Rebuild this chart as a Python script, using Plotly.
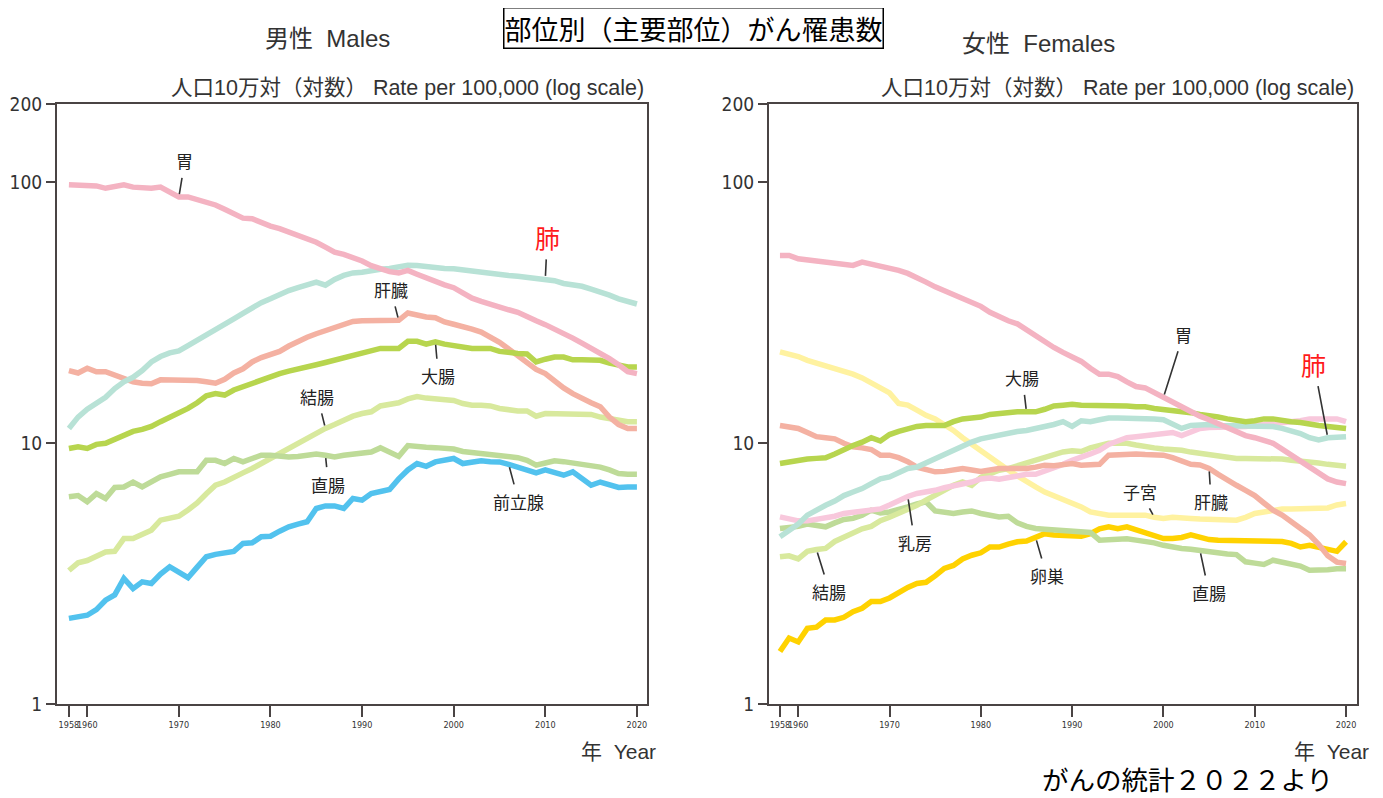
import math
import plotly.graph_objects as go

W, H = 1383, 798
OFF = 8  # page body margin of the browser

YEARS = list(range(1958, 2021))

# ---------------- Males ----------------
M_STOMACH = [98, 98, 98, 97, 95, 96, 98, 96, 95, 95, 96, 92, 88, 88, 86, 84, 82, 79, 76, 73,
             72.6, 70, 68, 66.5, 64.5, 62.7, 61, 59, 56.5, 54, 53, 51.5, 50, 48, 46.5, 45.5, 45, 46,
             44.5, 43, 41.5, 40.5, 39.5, 37.5, 36, 35, 34, 33.3, 32.5, 31.8, 30.8, 29.5, 28.5, 27.5,
             26.5, 25.3, 24.2, 23.2, 22.2, 21.1, 20, 18.8, 18.5]
M_LUNG = [11.4, 12.6, 13.5, 14.2, 15.0, 16.2, 17.2, 17.9, 19, 20.5, 21.5, 22.2, 22.6, 23.7, 24.8,
          26, 27.1, 28.5, 30, 31.5, 33.2, 34.6, 35.8, 37.2, 38.5, 39.5, 40.5, 41.5, 40.4, 42.5, 44,
          45, 45.3, 46, 46.5, 46.8, 47.5, 48.1, 48, 47.5, 47.2, 46.8, 46.7, 46.2, 45.5, 45.2, 44.8,
          44.4, 44, 43.7, 43.4, 43, 42.7, 42, 41, 40.5, 40, 39, 38.2, 37, 35.8, 35.2, 34.2]
M_LIVER = [19, 18.6, 19.4, 18.8, 18.8, 18.3, 17.7, 17.2, 17.0, 16.9, 17.5, 17.5, 17.5, 17.4, 17.4,
           17.2, 17.0, 17.6, 18.6, 19.3, 20.5, 21.3, 21.8, 22.5, 23.6, 24.6, 25.5, 26.3, 27, 27.6,
           28.5, 29.3, 29.5, 29.6, 29.6, 29.6, 29.6, 31.6, 31, 30.5, 30.3, 29.2, 28.6, 28.1, 27.4,
           26.7, 25.6, 24.4, 23, 21.7, 20.3, 19.2, 18.5, 17.3, 16.3, 15.5, 14.8, 14.3, 13.8, 12.6,
           11.8, 11.4, 11.4]
M_COLORECTAL = [9.55, 9.7, 9.55, 9.9, 10.0, 10.4, 10.8, 11.1, 11.3, 11.6, 12.1, 12.6, 13.0, 13.6,
                14.3, 15.2, 15.5, 15.3, 16.0, 16.5, 17.0, 17.5, 18.0, 18.5, 18.9, 19.2, 19.6, 20.0,
                20.4, 20.8, 21.2, 21.7, 22.2, 22.7, 23.1, 23.1, 23.1, 24.6, 24.6, 24.0, 24.5, 24.0,
                23.7, 23.3, 23.1, 23.1, 23.1, 22.5, 22.2, 22.1, 22.0, 20.5, 21.0, 21.4, 21.4, 20.9,
                20.9, 20.9, 20.8, 20.3, 19.9, 19.6, 19.6]
M_COLON = [3.25, 3.48, 3.55, 3.7, 3.83, 3.85, 4.31, 4.31, 4.5, 4.64, 5.07, 5.15, 5.25, 5.55, 5.9,
           6.4, 6.9, 7.1, 7.43, 7.7, 8.0, 8.36, 8.8, 9.2, 9.6, 10.0, 10.5, 11.0, 11.4, 11.8, 12.3,
           12.7, 13.0, 13.2, 13.9, 14.1, 14.3, 14.8, 15.1, 14.9, 14.8, 14.7, 14.6, 14.2, 14.0, 14.0,
           13.9, 13.6, 13.4, 13.3, 13.3, 12.7, 13.0, 13.0, 13.0, 13.0, 13.0, 12.9, 12.6, 12.4, 12.2,
           12.1, 12.1]
M_RECTUM = [6.23, 6.3, 5.96, 6.41, 6.14, 6.77, 6.8, 7.1, 6.8, 7.1, 7.43, 7.6, 7.77, 7.77, 7.77,
            8.6, 8.6, 8.36, 8.74, 8.48, 8.7, 9.0, 9.0, 8.9, 8.86, 8.9, 9.0, 9.1, 9.0, 8.86, 9.0,
            9.1, 9.2, 9.26, 9.6, 9.3, 8.9, 9.8, 9.7, 9.65, 9.62, 9.6, 9.5, 9.3, 9.2, 9.1, 9.1, 9.0,
            8.9, 8.8, 8.6, 8.24, 8.4, 8.56, 8.5, 8.4, 8.3, 8.24, 8.1, 7.9, 7.65, 7.6, 7.6]
M_PROSTATE = [2.13, 2.15, 2.19, 2.3, 2.5, 2.62, 3.03, 2.77, 2.94, 2.9, 3.15, 3.36, 3.2, 3.05, 3.35,
              3.67, 3.75, 3.8, 3.85, 4.13, 4.15, 4.38, 4.4, 4.6, 4.78, 4.9, 5.0, 5.62, 5.75, 5.75,
              5.62, 6.14, 6.05, 6.41, 6.5, 6.65, 7.3, 7.9, 8.36, 8.16, 8.48, 8.6, 8.74, 8.36, 8.5,
              8.56, 8.5, 8.48, 8.3, 8.12, 7.9, 7.7, 7.9, 7.7, 7.54, 7.77, 7.3, 6.9, 7.1, 6.95, 6.77,
              6.8, 6.8]

# ---------------- Females ----------------
F_STOMACH = [52.5, 52.5, 51, 50.5, 50, 49.3, 49, 48.5, 48.1, 49.5, 48.7, 47.8, 46.8, 46, 44.8,
             43.4, 41.5, 39.8, 38.5, 37.3, 36, 35, 33.5, 31.8, 30.5, 29.5, 28.7, 27.2, 25.8, 24.6,
             23.3, 22.3, 21.4, 20.6, 19.4, 18.4, 18.4, 18.0, 17.2, 16.5, 16.3, 15.7, 15.0, 14.4,
             13.8, 13.2, 12.7, 12.3, 11.9, 11.5, 11.0, 10.7, 10.5, 10.2, 10.0, 9.5, 9.0, 8.6, 8.1,
             7.7, 7.3, 7.1, 7.0]
F_COLORECTAL = [8.36, 8.5, 8.66, 8.7, 8.75, 8.8, 9.1, 9.5, 9.8, 10.1, 10.5, 10.2, 10.8, 11.1, 11.4,
                11.6, 11.7, 11.7, 11.7, 12.1, 12.4, 12.5, 12.6, 12.9, 13.0, 13.2, 13.2, 13.2, 13.2,
                13.5, 13.9, 14.0, 14.1, 14.0, 14.0, 14.0, 14.0, 13.9, 13.9, 13.8, 13.8, 13.6, 13.5,
                13.4, 13.3, 13.1, 12.9, 12.8, 12.6, 12.4, 12.2, 12.1, 12.2, 12.4, 12.4, 12.2, 12.1,
                12.0, 11.8, 11.7, 11.6, 11.5, 11.4]
F_LUNG = [4.38, 4.6, 4.9, 5.3, 5.55, 5.78, 6.0, 6.3, 6.5, 6.7, 7.0, 7.3, 7.43, 7.7, 8.0, 8.1, 8.4,
          8.8, 9.1, 9.4, 9.7, 10.1, 10.4, 10.6, 10.7, 10.9, 11.1, 11.2, 11.4, 11.5, 11.8, 12.1,
          11.6, 12.2, 12.1, 12.3, 12.5, 12.5, 12.5, 12.5, 12.5, 12.4, 12.3, 11.9, 11.4, 11.7, 11.8,
          11.8, 11.7, 11.7, 11.6, 11.6, 11.6, 11.6, 11.6, 11.4, 11.2, 10.9, 10.5, 10.3, 10.5, 10.6,
          10.6]
F_BREAST = [5.22, 5.1, 5.04, 5.04, 5.1, 5.15, 5.25, 5.38, 5.45, 5.5, 5.55, 5.6, 5.8, 6.05, 6.25,
            6.42, 6.5, 6.6, 6.75, 6.84, 7.0, 7.1, 7.3, 7.35, 7.28, 7.4, 7.54, 7.6, 7.6, 7.8, 8.0,
            8.3, 8.6, 8.8, 9.1, 9.4, 9.9, 10.2, 10.5, 10.6, 10.7, 10.7, 10.9, 11.0, 10.7, 11.1,
            11.4, 11.5, 11.5, 11.5, 11.5, 11.6, 11.7, 11.8, 11.9, 11.9, 12.0, 12.2, 12.4, 12.4,
            12.5, 12.4, 12.1]
F_COLON = [3.67, 3.7, 3.6, 3.85, 3.91, 3.95, 4.2, 4.35, 4.55, 4.7, 4.8, 5.05, 5.2, 5.38, 5.6,
           5.78, 6.05, 6.32, 6.6, 6.9, 7.1, 6.9, 7.4, 7.65, 7.88, 8.0, 8.2, 8.36, 8.55, 8.74, 9.0,
           9.26, 9.35, 9.3, 9.6, 9.8, 10.0, 10.0, 10.0, 9.85, 9.68, 9.6, 9.5, 9.46, 9.4, 9.25,
           9.13, 9.0, 8.86, 8.8, 8.74, 8.74, 8.74, 8.74, 8.74, 8.7, 8.6, 8.55, 8.48, 8.4, 8.3,
           8.2, 8.17]
F_RECTUM = [4.71, 4.75, 4.8, 4.9, 4.85, 4.78, 4.95, 5.1, 5.15, 5.3, 5.54, 5.4, 5.45, 5.54, 5.7,
            5.85, 5.96, 5.5, 5.42, 5.38, 5.45, 5.5, 5.38, 5.3, 5.22, 5.25, 4.95, 4.8, 4.71, 4.68,
            4.65, 4.62, 4.6, 4.6, 4.55, 4.25, 4.28, 4.3, 4.3, 4.25, 4.22, 4.15, 4.06, 3.98, 3.95,
            3.92, 3.88, 3.8, 3.78, 3.76, 3.74, 3.51, 3.47, 3.43, 3.56, 3.5, 3.45, 3.38, 3.26, 3.26,
            3.27, 3.3, 3.3]
F_LIVER = [11.7, 11.5, 11.4, 11.0, 10.6, 10.5, 10.4, 10.0, 9.7, 9.6, 9.46, 9.0, 9.0, 8.8, 8.5,
           8.1, 7.9, 7.77, 7.8, 7.9, 8.0, 7.9, 7.8, 7.9, 8.0, 8.0, 8.0, 8.0, 8.1, 8.24, 8.2, 8.3,
           8.36, 8.24, 8.3, 8.3, 9.0, 9.05, 9.1, 9.1, 9.05, 9.0, 9.0, 8.8, 8.5, 8.3, 8.25, 8.0,
           7.6, 7.2, 6.9, 6.6, 6.3, 5.9, 5.54, 5.3, 5.0, 4.75, 4.45, 4.1, 3.7, 3.5, 3.46]
F_UTERUS = [22.4, 22.0, 21.5, 20.8, 20.3, 19.9, 19.5, 19.0, 18.4, 17.8, 17.1, 16.3, 15.6, 14.2,
            14.0, 13.4, 12.8, 12.4, 11.8, 11.2, 10.5, 9.9, 9.4, 8.8, 8.3, 7.9, 7.5, 7.1, 6.8, 6.5,
            6.3, 6.1, 5.9, 5.7, 5.45, 5.35, 5.3, 5.3, 5.3, 5.3, 5.3, 5.2, 5.15, 5.2, 5.2, 5.15,
            5.12, 5.1, 5.07, 5.07, 5.07, 5.2, 5.38, 5.45, 5.54, 5.6, 5.6, 5.6, 5.6, 5.6, 5.65,
            5.8, 5.87]
F_OVARY = [1.59, 1.79, 1.73, 1.95, 1.97, 2.1, 2.1, 2.15, 2.26, 2.33, 2.47, 2.47, 2.55, 2.69, 2.8,
           2.9, 2.93, 3.1, 3.31, 3.4, 3.6, 3.72, 3.8, 4.0, 4.0, 4.1, 4.19, 4.22, 4.35, 4.5, 4.45,
           4.45, 4.45, 4.4, 4.5, 4.7, 4.78, 4.7, 4.78, 4.65, 4.5, 4.4, 4.31, 4.31, 4.35, 4.45,
           4.35, 4.27, 4.25, 4.25, 4.25, 4.25, 4.25, 4.25, 4.25, 4.2, 4.13, 4.0, 4.06, 4.0, 3.91,
           3.85, 4.19]

X_TICKS = [1958, 1960, 1970, 1980, 1990, 2000, 2010, 2020]
Y_TICKS = [1, 10, 100, 200]

COL = {
    "stomach": "#f4b3c2", "lung": "#b8e2d6", "liver": "#f4b1a2", "colorectal": "#b7d54e",
    "colon": "#d8e99d", "rectum": "#bedb98", "prostate": "#52c2ee", "uterus": "#fff2a0",
    "breast": "#f8c8dc", "ovary": "#ffd200",
}

MALE = [("結腸", M_COLON, "colon"), ("直腸", M_RECTUM, "rectum"), ("前立腺", M_PROSTATE, "prostate"),
        ("肝臓", M_LIVER, "liver"), ("大腸", M_COLORECTAL, "colorectal"), ("肺", M_LUNG, "lung"),
        ("胃", M_STOMACH, "stomach")]
FEMALE = [("子宮", F_UTERUS, "uterus"), ("卵巣", F_OVARY, "ovary"), ("直腸", F_RECTUM, "rectum"),
          ("結腸", F_COLON, "colon"), ("乳房", F_BREAST, "breast"), ("肝臓", F_LIVER, "liver"),
          ("肺", F_LUNG, "lung"), ("大腸", F_COLORECTAL, "colorectal"), ("胃", F_STOMACH, "stomach")]

FONT = "Liberation Sans, Noto Sans CJK JP, sans-serif"
CJK = "Noto Sans CJK JP, sans-serif"
NARROW = "Liberation Sans Narrow, DejaVu Sans Condensed, Liberation Sans"

fig = go.Figure()
for name, vals, key in MALE:
    fig.add_trace(go.Scatter(x=YEARS, y=vals, mode="lines", name=name, xaxis="x", yaxis="y",
                             line=dict(color=COL[key], width=5.5), showlegend=False))
for name, vals, key in FEMALE:
    fig.add_trace(go.Scatter(x=YEARS, y=vals, mode="lines", name=name, xaxis="x2", yaxis="y2",
                             line=dict(color=COL[key], width=5.5), showlegend=False))


def px(x):
    return (x - OFF) / W


def py(y):
    return 1 - (y - OFF) / H


AX_COLOR = "#4a4444"
xcommon = dict(tickvals=X_TICKS, ticktext=[str(t) for t in X_TICKS], ticks="outside", ticklen=11,
               tickwidth=1.5, tickcolor=AX_COLOR, showline=True, linecolor=AX_COLOR, linewidth=2,
               mirror=True, showgrid=False, zeroline=False, automargin=False, tickangle=0,
               tickfont=dict(family=NARROW, size=9, color="#333"))
ycommon = dict(type="log", range=[0, math.log10(200)], tickvals=Y_TICKS,
               ticktext=[str(t) for t in Y_TICKS], ticks="outside", ticklen=9, tickwidth=1.5,
               tickcolor=AX_COLOR, showline=True, linecolor=AX_COLOR, linewidth=2, mirror=True,
               showgrid=False, zeroline=False, automargin=False,
               tickfont=dict(family=NARROW, size=19, color="#333"))

ydom = [py(704), py(104)]
fig.update_layout(
    width=W, height=H, margin=dict(l=0, r=0, t=0, b=0, pad=0, autoexpand=False),
    paper_bgcolor="white", plot_bgcolor="white", showlegend=False,
    xaxis=dict(domain=[px(57), px(647)], range=[1956.7, 2021.1], anchor="y", **xcommon),
    yaxis=dict(domain=ydom, anchor="x", **ycommon),
    xaxis2=dict(domain=[px(769), px(1357)], range=[1956.8, 2021.2], anchor="y2", **xcommon),
    yaxis2=dict(domain=ydom, anchor="x2", **ycommon),
)

ann = []


def text_at(text, x, y, size, family=FONT, color="#333", xanchor="center", **kw):
    ann.append(dict(text=text, x=px(x), y=py(y), xref="paper", yref="paper", showarrow=False,
                    xanchor=xanchor, yanchor="middle",
                    font=dict(family=family, size=size, color=color), **kw))


# headers
text_at("部位別（主要部位）がん罹患数", 693, 28, 27, family=CJK, color="black",
        bordercolor="black", borderwidth=1.5, borderpad=0, bgcolor="white")
text_at("男性  Males", 327, 38, 24)
text_at("女性  Females", 1038, 43, 24)
for xr in (646, 1356):
    text_at("人口10万対（対数） Rate per 100,000 (log scale)", xr, 88, 21.5, xanchor="right")
for xr in (658, 1371):
    text_at("年  Year", xr, 751, 21, xanchor="right")
text_at("がんの統計２０２２より", 1335, 778, 26.5, family=CJK, color="black", xanchor="right")


def label(text, series, year, ax, ay, xa, ya, red=False):
    v = series[YEARS.index(year)]
    ann.append(dict(text=text, x=year, y=math.log10(v), xref=xa, yref=ya, ax=ax, ay=ay,
                    xanchor="center", yanchor="middle",
                    showarrow=True, arrowhead=0, arrowwidth=1.6, arrowcolor="#333",
                    standoff=3, borderpad=4,
                    font=dict(family=CJK, size=25 if red else 17,
                              color="#ff1a1a" if red else "#222")))


# male labels
label("胃", M_STOMACH, 1970, 6, -36, "x", "y")
label("肺", M_LUNG, 2010, 2, -42, "x", "y", red=True)
label("肝臓", M_LIVER, 1994, -8, -31, "x", "y")
label("大腸", M_COLORECTAL, 1998, 3, 34, "x", "y")
label("結腸", M_COLON, 1986, -8, -32, "x", "y")
label("直腸", M_RECTUM, 1986, 3, 29, "x", "y")
label("前立腺", M_PROSTATE, 2006, 10, 37, "x", "y")
# female labels
label("胃", F_STOMACH, 2000, 20, -63, "x2", "y2")
label("肺", F_LUNG, 2018, -14, -74, "x2", "y2", red=True)
label("大腸", F_COLORECTAL, 1985, -4, -34, "x2", "y2")
label("子宮", F_UTERUS, 1999, -14, -26, "x2", "y2")
label("肝臓", F_LIVER, 2005, 2, 33, "x2", "y2")
label("乳房", F_BREAST, 1972, 7, 46, "x2", "y2")
label("卵巣", F_OVARY, 1986, 11, 38, "x2", "y2")
label("結腸", F_COLON, 1962, 13, 42, "x2", "y2")
label("直腸", F_RECTUM, 2004, 9, 42, "x2", "y2")

fig.update_layout(annotations=ann)
fig.write_html("out.html")
